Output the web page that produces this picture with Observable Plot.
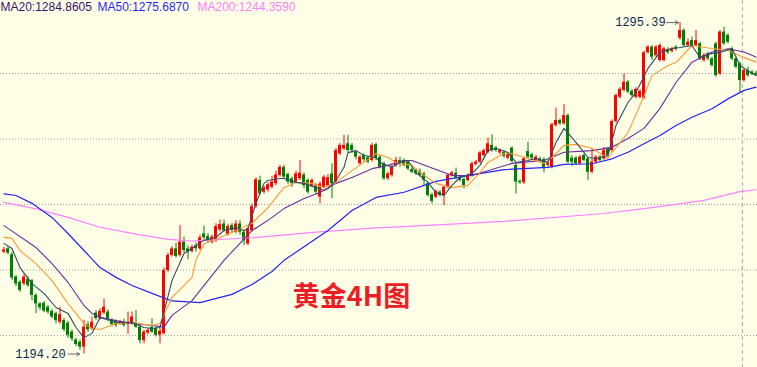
<!DOCTYPE html>
<html><head><meta charset="utf-8">
<script src="https://cdn.jsdelivr.net/npm/d3@7"></script>
<script src="https://cdn.jsdelivr.net/npm/@observablehq/plot@0.6"></script>
<style>
html,body{margin:0;padding:0;background:#FFFFE8;}
#chart{width:757px;height:367px;overflow:hidden;}
</style></head><body><div id="chart"></div>
<script>
// ---- candle data (4H bars, left to right) ----
const openP = [1225.3,1226.3,1224.5,1217.7,1216.1,1215.6,1217.0,1216.6,1212.1,1209.5,1209.7,1208.5,1207.2,1206.5,1203.9,1204.4,1203.6,1200.9,1198.5,1197.8,
1196.3,1203.2,1201.9,1206.7,1205.0,1206.7,1207.0,1204.4,1204.1,1203.4,1203.9,1203.2,1203.6,1203.6,1202.4,1198.3,1200.6,1202.4,1201.9,1199.9,
1200.4,1219.7,1224.3,1226.3,1224.3,1228.4,1226.3,1225.5,1227.3,1226.3,1230.9,1230.1,1228.3,1228.8,1232.1,1233.9,1230.7,1233.4,1231.4,1233.9,
1231.4,1227.8,1231.9,1239.2,1247.2,1243.6,1244.3,1245.1,1246.2,1248.7,1251.2,1249.0,1247.7,1246.7,1247.7,1248.9,1247.2,1245.6,1245.6,1242.1,
1245.1,1245.6,1249.2,1246.7,1255.3,1256.8,1258.4,1257.9,1255.8,1252.3,1254.8,1254.1,1253.3,1258.1,1254.3,1252.3,1247.7,1248.7,1251.8,1253.3,
1253.3,1252.8,1250.5,1250.2,1249.9,1249.2,1246.2,1242.8,1242.1,1243.6,1242.6,1245.1,1248.7,1249.4,1248.2,1247.5,1247.2,1248.7,1252.1,1252.8,
1254.8,1255.8,1257.9,1257.1,1255.6,1255.8,1254.0,1257.1,1251.8,1246.9,1246.5,1256.0,1255.0,1253.3,1253.8,1253.6,1251.8,1251.2,1264.0,1265.5,
1264.5,1267.0,1254.0,1254.0,1252.3,1254.8,1253.8,1249.7,1252.8,1254.3,1253.8,1256.8,1256.3,1265.2,1272.6,1274.7,1277.2,1274.4,1272.6,1272.6,
1272.3,1286.2,1287.9,1285.3,1283.8,1283.8,1287.2,1286.6,1287.9,1290.6,1293.0,1288.4,1289.9,1288.4,1288.9,1283.8,1285.9,1284.3,1288.9,1279.7,
1292.5,1291.5,1287.4,1284.3,1282.8,1277.7,1280.8,1280.3,1279.9];
const highP = [1226.8,1226.9,1225.3,1218.2,1216.6,1218.5,1217.8,1217.0,1212.6,1210.0,1210.2,1209.0,1207.8,1207.0,1208.5,1205.0,1204.2,1201.5,1199.0,1198.5,
1204.5,1204.0,1205.5,1207.5,1208.0,1211.0,1207.7,1205.0,1204.6,1204.5,1204.8,1207.0,1207.0,1207.5,1203.0,1201.5,1202.0,1205.0,1202.4,1202.0,
1220.5,1225.0,1227.0,1228.0,1233.5,1229.9,1227.2,1227.5,1228.2,1230.5,1233.3,1231.0,1230.5,1234.0,1235.1,1235.1,1233.8,1234.0,1234.9,1234.9,
1232.0,1233.0,1240.0,1248.0,1248.5,1245.5,1246.5,1248.5,1250.0,1251.8,1251.8,1249.5,1248.2,1250.0,1253.3,1249.5,1247.7,1247.7,1246.2,1246.7,
1248.7,1249.0,1252.3,1257.0,1258.5,1261.0,1261.0,1258.5,1256.3,1254.8,1255.3,1254.6,1258.5,1258.6,1254.8,1252.8,1249.7,1251.8,1254.3,1254.3,
1253.8,1253.3,1251.0,1250.7,1250.7,1249.7,1246.7,1243.3,1244.3,1244.1,1245.6,1249.2,1250.0,1251.0,1248.7,1248.0,1249.2,1252.8,1253.3,1256.1,
1256.8,1260.1,1261.1,1257.6,1256.8,1256.3,1255.5,1257.4,1252.3,1247.4,1254.3,1258.9,1255.5,1254.8,1254.3,1254.1,1252.8,1264.7,1269.3,1266.0,
1270.3,1267.5,1254.8,1254.5,1254.8,1255.3,1254.3,1256.8,1254.8,1254.8,1257.3,1257.3,1265.7,1273.6,1275.5,1279.7,1277.7,1274.9,1275.5,1274.9,
1286.7,1288.4,1288.4,1288.4,1288.9,1287.9,1287.7,1287.9,1288.4,1295.39,1293.5,1290.4,1291.0,1293.0,1289.4,1286.0,1286.4,1284.8,1289.4,1293.0,
1294.0,1292.0,1287.9,1284.8,1283.3,1281.3,1281.8,1280.8,1280.5];
const lowP = [1224.8,1224.5,1216.7,1214.8,1213.0,1215.0,1214.5,1210.5,1206.5,1207.5,1206.8,1206.3,1205.0,1203.4,1203.2,1201.0,1199.0,1198.0,1196.5,1195.3,
1194.2,1200.8,1201.4,1204.5,1204.5,1206.2,1204.0,1202.7,1202.3,1202.9,1202.4,1200.2,1203.0,1202.0,1197.3,1197.3,1200.0,1200.5,1199.4,1197.3,
1200.0,1219.0,1223.8,1223.5,1223.8,1225.0,1223.0,1225.0,1225.3,1225.8,1229.0,1228.0,1227.8,1228.3,1231.5,1231.4,1230.2,1231.0,1230.9,1230.5,
1227.3,1227.3,1231.4,1238.7,1242.6,1243.0,1243.6,1244.6,1245.6,1248.2,1247.6,1246.0,1245.1,1246.2,1247.2,1244.6,1243.0,1245.0,1243.0,1240.0,
1244.6,1245.1,1241.6,1246.2,1254.8,1256.3,1255.8,1255.5,1253.5,1251.8,1252.8,1252.3,1252.8,1253.3,1250.7,1247.2,1247.2,1248.2,1251.3,1251.2,
1251.3,1250.2,1249.2,1248.7,1248.2,1245.6,1242.1,1240.0,1241.6,1242.1,1239.5,1244.6,1248.2,1247.4,1246.7,1244.6,1246.7,1248.2,1251.6,1252.3,
1254.3,1255.3,1255.8,1255.8,1255.0,1254.0,1253.5,1252.5,1243.1,1246.0,1246.0,1253.8,1253.5,1252.8,1252.8,1249.5,1251.2,1250.7,1263.5,1264.0,
1264.0,1252.3,1251.5,1251.8,1251.8,1252.8,1247.2,1249.2,1252.3,1252.8,1253.3,1254.3,1255.8,1264.7,1272.1,1274.2,1273.7,1272.6,1272.1,1272.1,
1271.8,1285.7,1283.8,1284.8,1283.3,1283.3,1285.7,1286.1,1286.7,1290.0,1287.9,1287.9,1287.9,1287.9,1283.8,1283.3,1283.8,1281.8,1278.7,1279.2,
1288.4,1288.9,1283.8,1281.3,1274.0,1277.2,1278.7,1279.2,1278.9];
const closeP = [1226.0,1225.0,1217.4,1215.6,1213.6,1217.7,1215.1,1212.1,1209.5,1208.3,1207.3,1207.0,1205.5,1204.4,1206.2,1201.6,1199.9,1198.8,1197.1,1196.3,
1202.4,1201.6,1203.9,1205.0,1207.2,1208.5,1205.0,1203.2,1202.9,1203.9,1202.9,1203.9,1205.5,1202.4,1198.3,1200.9,1201.4,1200.9,1199.9,1201.2,
1219.7,1224.3,1226.3,1224.0,1228.4,1225.8,1225.3,1226.8,1226.3,1229.7,1229.7,1228.8,1229.9,1233.1,1233.7,1231.9,1233.1,1231.9,1233.9,1231.4,
1228.8,1232.4,1239.2,1247.4,1243.1,1244.9,1245.9,1246.7,1248.9,1251.2,1248.2,1246.7,1246.2,1249.2,1249.4,1245.6,1243.6,1247.2,1243.6,1246.1,
1248.2,1248.0,1246.2,1256.3,1257.9,1257.9,1256.3,1256.3,1254.3,1254.3,1253.5,1252.8,1257.9,1253.8,1251.2,1247.7,1249.2,1251.2,1253.3,1252.3,
1251.8,1250.7,1249.7,1249.2,1248.7,1247.2,1242.6,1240.8,1243.8,1242.6,1245.1,1248.7,1249.5,1247.9,1247.2,1245.6,1248.7,1252.3,1252.8,1255.6,
1256.3,1258.4,1256.3,1256.3,1256.3,1254.6,1255.0,1253.0,1246.7,1246.5,1253.8,1254.3,1254.0,1254.3,1253.2,1251.2,1252.3,1264.2,1265.5,1264.5,
1267.0,1252.8,1252.8,1252.3,1254.3,1253.3,1249.7,1252.8,1254.3,1253.3,1256.3,1254.8,1265.2,1273.1,1275.0,1277.2,1274.2,1273.1,1275.0,1274.4,
1286.2,1287.9,1284.8,1287.9,1288.4,1287.4,1286.2,1287.4,1287.2,1293.0,1288.4,1289.4,1288.4,1289.9,1284.3,1285.4,1284.3,1282.3,1279.2,1292.5,
1288.9,1289.4,1284.3,1281.8,1277.7,1280.8,1279.2,1279.7,1279.4];

// ---- moving average lines (bar index -> price) ----
const ma5Idx = [0,2,4,7,10,13,16,18,20,22,24,27,28,32,35,37,39,42,45,47,48,50,53,55,58,60,61,63,65,66,69,70,73,75,78,80,81,83,85,86,88,90,93,94,97,99,101,103,106,108,110,112,114,117,119,121,123,126,128,131,133,136,138,140,143,146,148,151,153,156,158,161,164,167,169,172,174,177,179,182,184,187,188];
const ma5Val = [1227.9,1226.4,1220.6,1215.7,1212.7,1208.4,1206.6,1202.3,1199.2,1200.5,1205.3,1204.4,1203.8,1203.8,1202.3,1202.0,1202.3,1216.6,1224.9,1226.4,1227.3,1228.9,1229.8,1231.9,1232.8,1231.9,1232.5,1240.2,1246.3,1247.2,1247.8,1247.8,1246.6,1246.3,1245.0,1244.1,1244.7,1247.2,1251.2,1255.7,1256.3,1254.8,1254.2,1252.7,1251.2,1252.7,1253.3,1249.6,1246.6,1243.5,1242.6,1245.7,1248.1,1249.3,1251.8,1256.3,1257.0,1255.7,1252.7,1253.3,1253.9,1252.7,1258.8,1263.1,1258.8,1254.2,1253.9,1254.8,1264.0,1271.0,1274.1,1281.4,1286.3,1287.5,1287.8,1288.4,1284.7,1286.0,1286.3,1287.5,1282.3,1279.9,1279.2];
const ma10Idx = [0,2,4,8,12,16,18,20,22,24,28,32,37,39,42,47,48,50,54,58,62,66,70,73,77,80,83,87,90,93,96,98,102,104,108,112,116,119,121,125,127,131,135,137,140,143,147,151,152,156,160,162,166,168,172,177,181,185,188];
const ma10Val = [1229.9,1229.5,1225.8,1221.8,1216.6,1209.6,1206.6,1203.5,1202.0,1201.7,1203.5,1203.8,1202.9,1203.5,1211.5,1217.6,1222.8,1227.9,1229.8,1231.9,1234.1,1238.9,1245.0,1246.6,1246.3,1245.0,1246.6,1250.2,1252.7,1255.4,1254.2,1252.7,1251.8,1249.6,1246.3,1245.0,1245.7,1249.6,1252.7,1255.4,1255.4,1253.9,1252.4,1254.2,1257.9,1258.2,1257.0,1253.9,1255.7,1261.8,1273.0,1279.2,1282.3,1283.2,1288.4,1287.5,1286.9,1284.7,1283.4];
const ma20Idx = [0,8,12,16,20,22,24,28,32,37,40,42,47,55,62,66,70,75,79,83,87,92,96,100,102,112,117,127,135,140,147,152,156,160,164,168,172,177,181,185,188];
const ma20Val = [1233.4,1226.7,1221.8,1216.1,1209.0,1206.6,1205.4,1204.4,1203.5,1202.9,1202.4,1206.0,1210.5,1222.8,1231.9,1235.0,1238.6,1241.7,1243.5,1246.3,1248.1,1250.8,1251.8,1253.3,1253.3,1248.7,1248.7,1252.4,1253.3,1255.8,1256.3,1257.3,1260.0,1263.1,1269.2,1277.1,1283.3,1286.4,1287.4,1286.4,1284.86];
const ma50Idx = [0,3,7,12,16,20,24,28,32,37,42,49,57,62,67,70,81,87,93,100,108,117,125,136,140,147,152,156,160,164,168,172,177,181,185,188];
const ma50Val = [1243.1,1242.6,1240.2,1235.9,1231.0,1225.8,1220.6,1217.6,1215.1,1212.7,1210.4,1209.9,1212.4,1215.4,1219.4,1222.8,1231.9,1238.0,1242.0,1243.6,1246.9,1248.9,1250.5,1251.2,1252.1,1252.3,1253.8,1255.8,1258.4,1260.9,1264.0,1266.5,1269.1,1272.1,1274.7,1275.69];
const ma200Idx = [0,8,16,24,33,41,47,62,78,93,100,125,150,162,175,184,188];
const ma200Val = [1240.5,1238.5,1235.9,1232.9,1230.8,1229.2,1228.7,1229.7,1231.4,1232.7,1233.1,1234.7,1237.1,1238.9,1241.1,1243.8,1244.36];

// ---- legend, grid, separators ----
const legendNames = ["MA20", "MA50", "MA200"];
const legendValues = [1284.8605, 1275.6870, 1244.3590];
const gridLevels = [1200, 1220, 1240, 1260, 1280];
const sessionBreaks = [184.6];
const title = "黄金4H图";

const candles = openP.map((o, i) => ({i, o, h: highP[i], l: lowP[i], c: closeP[i], up: closeP[i] >= o}));
const line = (idx, val) => idx.map((i, k) => ({i, v: val[k]}));
const UP = "#FF0000", DOWN = "#008000";

const hiIdx = d3.maxIndex(highP), loIdx = d3.minIndex(lowP);
const peak = [{i: hiIdx, v: highP[hiIdx], t: highP[hiIdx].toFixed(2)}];
const trough = [{i: loIdx, v: lowP[loIdx], t: lowP[loIdx].toFixed(2)}];

const legendX = [0, 97, 197];
const legendColors = ["#3A1070", "#1F1FFF", "#FF80FF"];
const lineColors = {ma5: "#2E4A68", ma10: "#FF9933", ma20: "#6A2C9E", ma50: "#2424F0", ma200: "#FF80FF"};

const chart = Plot.plot({
  width: 757, height: 367, margin: 0,
  style: {background: "#FFFFE8", overflow: "hidden"},
  x: {type: "linear", domain: [-0.875, 188.375], axis: null},
  y: {domain: [1190.08, 1302.14], axis: null},
  color: {type: "identity"},
  marks: [
    Plot.ruleY(gridLevels, {stroke: "#A0A0A0", strokeDasharray: "1,2", dy: 0.5}),
    Plot.ruleX(sessionBreaks, {stroke: "#A8A8A8", strokeDasharray: "4,3"}),
    Plot.ruleX(candles, {x: "i", y1: "l", y2: "h", stroke: d => d.up ? UP : DOWN, strokeWidth: 1}),
    Plot.rect(candles, {x1: d => d.i - 0.375, x2: d => d.i + 0.375, y1: "o", y2: "c", fill: d => d.up ? UP : DOWN}),
    Plot.line(line(ma200Idx, ma200Val), {x: "i", y: "v", stroke: lineColors.ma200, strokeWidth: 1.2}),
    Plot.line(line(ma50Idx, ma50Val), {x: "i", y: "v", stroke: lineColors.ma50, strokeWidth: 1.2}),
    Plot.line(line(ma20Idx, ma20Val), {x: "i", y: "v", stroke: lineColors.ma20, strokeWidth: 1.1}),
    Plot.line(line(ma10Idx, ma10Val), {x: "i", y: "v", stroke: lineColors.ma10, strokeWidth: 1.1}),
    Plot.line(line(ma5Idx, ma5Val), {x: "i", y: "v", stroke: lineColors.ma5, strokeWidth: 1.1}),
    // extreme annotations
    Plot.arrow(peak, {x1: d => d.i - 3.4, x2: d => d.i - 0.4, y1: "v", y2: "v", stroke: "#666", strokeWidth: 1, headLength: 5}),
    Plot.text(peak, {x: d => d.i - 3.6, y: "v", text: "t", textAnchor: "end", lineAnchor: "middle", fill: "#0B2A4F", fontSize: 12, fontFamily: "Liberation Mono, DejaVu Sans Mono, monospace"}),
    Plot.arrow(trough, {x1: d => d.i - 3.9, x2: d => d.i - 1.1, y1: "v", y2: "v", stroke: "#666", strokeWidth: 1, headLength: 5}),
    Plot.text(trough, {x: d => d.i - 4.6, y: "v", text: "t", textAnchor: "end", lineAnchor: "middle", fill: "#0B2A4F", fontSize: 12, fontFamily: "Liberation Mono, DejaVu Sans Mono, monospace"}),
    // legend
    ...legendNames.map((n, k) => Plot.text([`${n}:${legendValues[k].toFixed(4)}`], {
      frameAnchor: "top-left", dx: legendX[k], dy: 2, textAnchor: "start", lineAnchor: "top",
      fill: legendColors[k], fontSize: 12, fontFamily: "Liberation Sans, Arial, sans-serif"})),
    // title watermark
    Plot.text([title], {frameAnchor: "top-left", dx: 351, dy: 297, textAnchor: "middle", lineAnchor: "middle",
      fill: "#EE1C25", fontSize: 27, fontWeight: "bold", fontFamily: "Noto Sans CJK SC, sans-serif"})
  ]
});
document.getElementById("chart").append(chart);
</script></body></html>
